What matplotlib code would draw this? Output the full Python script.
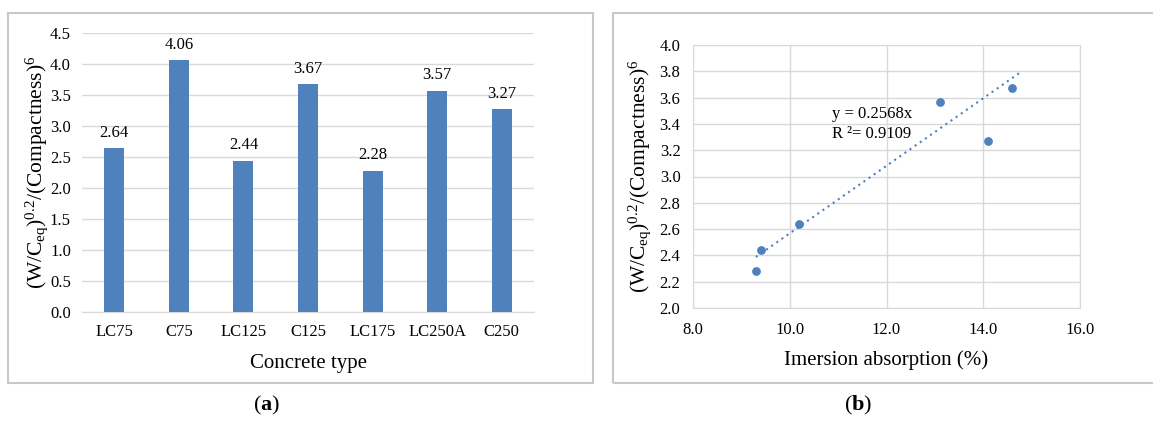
import matplotlib
matplotlib.use("Agg")
import matplotlib.pyplot as plt
from matplotlib.patches import Rectangle

plt.rcParams['font.family'] = ['Liberation Serif', 'DejaVu Serif']
plt.rcParams['mathtext.fontset'] = 'custom'
plt.rcParams['mathtext.rm'] = 'Liberation Serif'
plt.rcParams['mathtext.it'] = 'Liberation Serif:italic'
plt.rcParams['mathtext.bf'] = 'Liberation Serif:bold'

# (a) bar data
concrete = ['LC75', 'C75', 'LC125', 'C125', 'LC175', 'LC250A', 'C250']
ratio = [2.64, 4.06, 2.44, 3.67, 2.28, 3.57, 3.27]

# (b) scatter data
absorption = [9.3, 9.4, 10.2, 13.1, 14.1, 14.6]
ratio_b = [2.28, 2.44, 2.64, 3.57, 3.27, 3.67]
slope = 0.2568
trend_x = [9.3, 14.8]

blue = '#4f81bd'
grid = '#d9d9d9'
ylab = r'(W/C$_{\rm eq}$)$^{0.2}$/(Compactness)$^6$'

W, H = 1153, 422
fig = plt.figure(figsize=(W / 100, H / 100), dpi=100)

def fx(px):
    return px / W

def fy(py):
    return 1 - py / H

# outer frames
fig.patches.append(Rectangle((fx(8), fy(383)), fx(585), 370 / H, transform=fig.transFigure,
                             fill=False, edgecolor='#c8c8c8', lw=1.5))
fig.patches.append(Rectangle((fx(613), fy(383)), fx(560), 370 / H, transform=fig.transFigure,
                             fill=False, edgecolor='#c8c8c8', lw=1.5, clip_on=False))

# ---- (a) bar chart
ax1 = fig.add_axes([fx(82), fy(312), fx(452), 279 / H])
x = range(len(concrete))
bars = ax1.bar(x, ratio, width=0.31, color=blue, zorder=3)
for b, v in zip(bars, ratio):
    ax1.text(b.get_x() + b.get_width() / 2, v + 0.12, f"{v:.2f}", ha='center', va='bottom', fontsize=12)
ax1.set_xlim(-0.5, len(concrete) - 0.5)
ax1.set_ylim(0, 4.5)
ax1.set_yticks([i * 0.5 for i in range(10)])
ax1.set_yticklabels([f"{i * 0.5:.1f}" for i in range(10)])
ax1.set_xticks(list(x))
ax1.set_xticklabels(concrete)
ax1.yaxis.grid(True, color=grid, lw=1, zorder=0)
for s in ['top', 'right', 'left']:
    ax1.spines[s].set_visible(False)
ax1.spines['bottom'].set_color(grid)
ax1.tick_params(length=0, labelsize=12)
ax1.tick_params(axis='y', pad=8)
ax1.tick_params(axis='x', pad=9)
ax1.set_xlabel('Concrete type', fontsize=15, labelpad=10)
ax1.set_ylabel(ylab, fontsize=15.5, labelpad=0)

# ---- (b) scatter
ax2 = fig.add_axes([fx(693), fy(308), fx(387), 263 / H])
ax2.scatter(absorption, ratio_b, s=28, color=blue, zorder=3)
ax2.plot(trend_x, [slope * t for t in trend_x], ls=(0, (1, 2)), color=blue, lw=1.5, zorder=2)
ax2.set_xlim(8, 16)
ax2.set_ylim(2, 4)
ax2.set_xticks([8, 10, 12, 14, 16])
ax2.set_xticklabels(['8.0', '10.0', '12.0', '14.0', '16.0'])
ax2.set_yticks([2 + i * 0.2 for i in range(11)])
ax2.set_yticklabels([f"{2 + i * 0.2:.1f}" for i in range(11)])
ax2.grid(True, color=grid, lw=1, zorder=0)
for s in ax2.spines.values():
    s.set_color(grid)
ax2.tick_params(length=0, labelsize=12)
ax2.tick_params(axis='y', pad=9)
ax2.tick_params(axis='x', pad=10)
ax2.set_xlabel('Imersion absorption (%)', fontsize=15, labelpad=9)
ax2.set_ylabel(ylab, fontsize=15.5, labelpad=5)
ax2.text(10.87, 3.40, 'y = 0.2568x\nR ²= 0.9109', fontsize=12, va='center', linespacing=1.35)

# captions
fig.text(fx(267), fy(405), r'($\bf{a}$)', ha='center', va='center', fontsize=16)
fig.text(fx(858), fy(405), r'($\bf{b}$)', ha='center', va='center', fontsize=16)

fig.savefig('out.png', dpi=100)
